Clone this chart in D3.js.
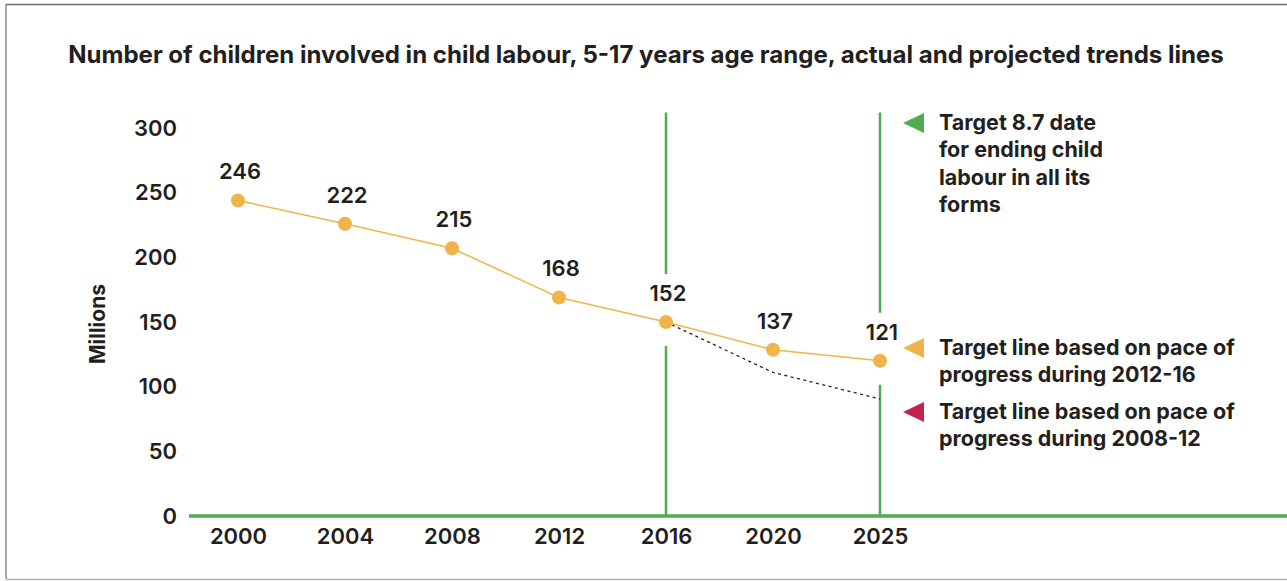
<!DOCTYPE html>
<html>
<head>
<meta charset="utf-8">
<script src="https://cdn.jsdelivr.net/npm/d3@7"></script>
<style>
  body { margin: 0; background: #fff; }
  svg { display: block; font-family: Inter, "Noto Sans", sans-serif; }
</style>
</head>
<body>
<div id="chart"></div>
<script>
"use strict";

// data
var years = ["2000", "2004", "2008", "2012", "2016", "2020", "2025"];
var labourMillions = [244, 226, 207, 169, 150, 128.5, 120];
var valueLabels = ["246", "222", "215", "168", "152", "137", "121"];
var slowYears = ["2016", "2020", "2025"];
var slowMillions = [150, 111, 90.5];
var markerYears = ["2016", "2025"];
var yTicks = [0, 50, 100, 150, 200, 250, 300];

var noteColours = ["#4cae4f", "#f0b44b", "#c42350"];
var noteLines = [
  ["Target 8.7 date", "for ending child", "labour in all its", "forms"],
  ["Target line based on pace of", "progress during 2012-16"],
  ["Target line based on pace of", "progress during 2008-12"]
];
var noteY = [123, 348, 412];

var title = "Number of children involved in child labour, 5-17 years age range, actual and projected trends lines";

var width = 1287, height = 581;
var green = "#4cae4f", yellow = "#f0b44b", ink = "#231f20";

var svg = d3.select("#chart").append("svg")
  .attr("width", width).attr("height", height);

// frame
svg.append("line").attr("x1", 6).attr("x2", width).attr("y1", 4.5).attr("y2", 4.5)
  .attr("stroke", "#6d6d6d").attr("stroke-width", 1.5);
svg.append("line").attr("x1", 6).attr("x2", 6).attr("y1", 4).attr("y2", 579)
  .attr("stroke", "#8a8a8a").attr("stroke-width", 1.5);
svg.append("line").attr("x1", 6).attr("x2", width).attr("y1", 579.5).attr("y2", 579.5)
  .attr("stroke", "#b5b5b5").attr("stroke-width", 1.5);

// title, sized to span the same width as the original
var tt = svg.append("text")
  .attr("x", 646).attr("y", 63)
  .attr("text-anchor", "middle")
  .attr("font-size", 20).attr("font-weight", 700).attr("fill", ink)
  .text(title);
var tw = tt.node().getComputedTextLength();
if (tw > 0) tt.attr("font-size", 20 * 1156 / tw);

var x = d3.scalePoint().domain(years).range([238, 880]);
var y = d3.scaleLinear().domain([0, 300]).range([516, 128]);

// y axis
var yAxis = svg.append("g").attr("transform", "translate(189,0)")
  .call(d3.axisLeft(y).tickValues(yTicks).tickSize(0).tickPadding(12));
yAxis.select(".domain").remove();
yAxis.selectAll("text").attr("font-size", 22).attr("font-weight", 600)
  .attr("fill", ink).style("font-family", "Inter, sans-serif");

svg.append("text")
  .attr("transform", "translate(105,324) rotate(-90)")
  .attr("text-anchor", "middle")
  .attr("font-size", 21).attr("font-weight", 700).attr("fill", ink)
  .text("Millions");

// x axis
var xAxis = svg.append("g").attr("transform", "translate(0," + y(0) + ")")
  .call(d3.axisBottom(x).tickSize(0).tickPadding(12));
xAxis.select(".domain").remove();
xAxis.selectAll("text").attr("font-size", 22).attr("font-weight", 600)
  .attr("fill", ink).style("font-family", "Inter, sans-serif");

svg.append("line")
  .attr("x1", 189).attr("x2", width)
  .attr("y1", y(0)).attr("y2", y(0))
  .attr("stroke", green).attr("stroke-width", 3.5);

// vertical target lines, broken around the value labels
markerYears.forEach(function (yr) {
  var i = years.indexOf(yr);
  var py = y(labourMillions[i]);
  var segs = [[y(312), py - 48], [py + 24, y(0)]];
  segs.forEach(function (s) {
    svg.append("line")
      .attr("x1", x(yr)).attr("x2", x(yr))
      .attr("y1", s[0]).attr("y2", s[1])
      .attr("stroke", green).attr("stroke-width", 2.5);
  });
});

// projected slower trend
var line = d3.line()
  .x(function (d) { return x(d[0]); })
  .y(function (d) { return y(d[1]); });

svg.append("path")
  .datum(d3.zip(slowYears, slowMillions))
  .attr("d", line)
  .attr("fill", "none").attr("stroke", "#222")
  .attr("stroke-width", 1.3).attr("stroke-dasharray", "3,3.5");

// actual / projected trend
var series = d3.zip(years, labourMillions);
svg.append("path")
  .datum(series)
  .attr("d", line)
  .attr("fill", "none").attr("stroke", yellow).attr("stroke-width", 1.5);

svg.selectAll("circle.pt").data(series).enter().append("circle")
  .attr("class", "pt")
  .attr("cx", function (d) { return x(d[0]); })
  .attr("cy", function (d) { return y(d[1]); })
  .attr("r", 7).attr("fill", yellow);

svg.selectAll("text.val").data(series).enter().append("text")
  .attr("class", "val")
  .attr("x", function (d) { return x(d[0]) + 2; })
  .attr("y", function (d) { return y(d[1]) - 21; })
  .attr("text-anchor", "middle")
  .attr("font-size", 22).attr("font-weight", 600).attr("fill", ink)
  .text(function (d, i) { return valueLabels[i]; });

// notes on the right
var notes = svg.append("g");
noteLines.forEach(function (lines, k) {
  var cy = noteY[k];
  notes.append("path")
    .attr("d", "M903," + cy + "L924," + (cy - 10) + "L924," + (cy + 10) + "Z")
    .attr("fill", noteColours[k]);
  var t = notes.append("text")
    .attr("x", 939).attr("y", cy + 7)
    .attr("font-size", 21.5).attr("font-weight", 700).attr("fill", ink);
  lines.forEach(function (s, j) {
    t.append("tspan").attr("x", 939).attr("dy", j === 0 ? 0 : 27.3).text(s);
  });
});
</script>
</body>
</html>
